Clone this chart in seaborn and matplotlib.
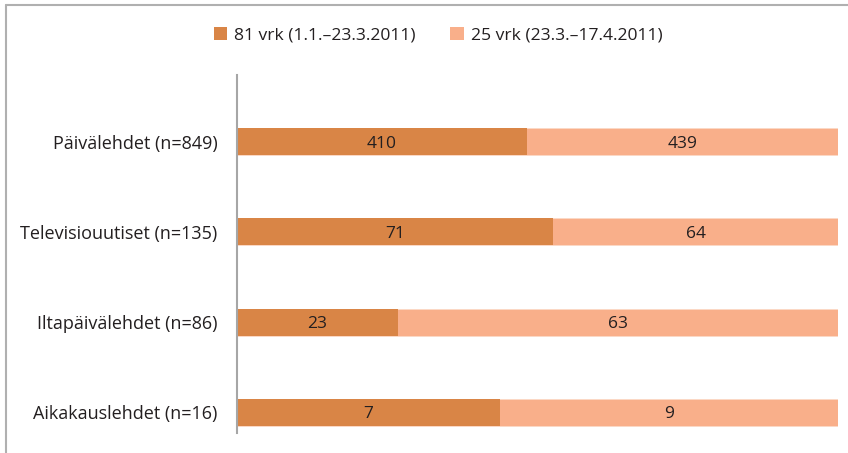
import matplotlib
matplotlib.use("Agg")
import matplotlib.pyplot as plt
from matplotlib.lines import Line2D
from matplotlib.patches import Patch
import seaborn as sns
import pandas as pd

categories = ["Päivälehdet (n=849)", "Televisiouutiset (n=135)",
              "Iltapäivälehdet (n=86)", "Aikakauslehdet (n=16)"]
series1_name = "81 vrk (1.1.–23.3.2011)"
series2_name = "25 vrk (23.3.–17.4.2011)"
series1 = [410, 71, 23, 7]
series2 = [439, 64, 63, 9]

dark = "#D98546"
light = "#F9AF8A"
textc = "#231F20"

sns.set_theme(style="white")
plt.rcParams['font.family'] = ['Open Sans', 'DejaVu Sans']

df = pd.DataFrame({"cat": categories, "a": series1, "b": series2})
df["total"] = df["a"] + df["b"]
df["share_a"] = df["a"] / df["total"]
df["full"] = 1.0

fig = plt.figure(figsize=(8.48, 4.53), dpi=100)
ax = fig.add_axes([237/848, 1-433/453, (838-237)/848, (433-75)/453])

sns.barplot(data=df, x="full", y="cat", orient="h", color=light, width=0.3,
            saturation=1, ax=ax, edgecolor="#FCD9C6", linewidth=0.6)
sns.barplot(data=df, x="share_a", y="cat", orient="h", color=dark, width=0.3,
            saturation=1, ax=ax, linewidth=0)

for i, row in df.iterrows():
    ax.text(row["share_a"]/2, i, str(row["a"]), ha="center", va="center_baseline",
            fontsize=12.5, color=textc)
    ax.text(row["share_a"] + (1-row["share_a"])/2, i, str(row["b"]),
            ha="center", va="center_baseline", fontsize=12.5, color=textc)

ax.set_xlim(0, 1)
ax.set_ylim(3.233, -0.744)
ax.set_xlabel("")
ax.set_ylabel("")
ax.set_xticks([])
ax.tick_params(axis="y", length=0, pad=14, labelsize=13, labelcolor=textc)
for s in ["top", "right", "bottom"]:
    ax.spines[s].set_visible(False)
ax.spines["left"].set_color("#A6A6A6")
ax.spines["left"].set_linewidth(1.5)

handles = [Patch(facecolor=dark, edgecolor="none"),
           Patch(facecolor=light, edgecolor="none")]
fig.legend(handles, [series1_name, series2_name], loc="center",
           bbox_to_anchor=(0.5 + 14/848, 1-35/453), ncol=2, frameon=False,
           fontsize=12.6, handlelength=0.75, handleheight=0.75,
           handletextpad=0.4, columnspacing=2.0, labelcolor=textc)

# outer frame (partial)
fig.add_artist(Line2D([6/848, 1], [1-5/453, 1-5/453], transform=fig.transFigure,
                      color="#B0B0B0", lw=1.5))
fig.add_artist(Line2D([6/848, 6/848], [0, 1-5/453], transform=fig.transFigure,
                      color="#B0B0B0", lw=1.5))

fig.savefig("out.png", dpi=100)
